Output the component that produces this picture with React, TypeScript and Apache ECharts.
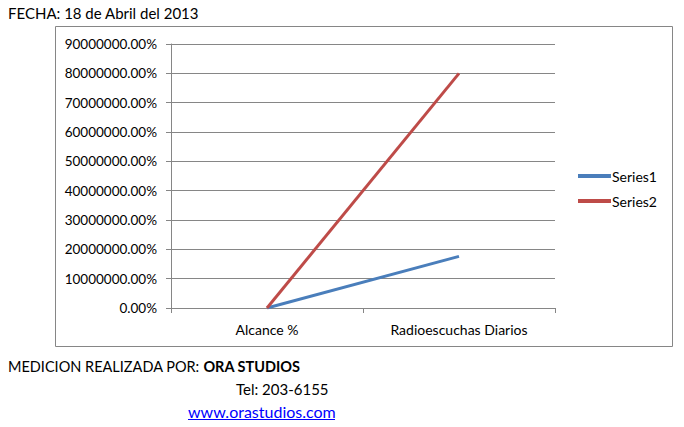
import React, { useEffect, useRef } from "react";
import * as echarts from "echarts";

const categories = ["Alcance %", "Radioescuchas Diarios"];
const series1 = [0, 17600000];
const series2 = [0, 80000000];
const seriesNames = ["Series1", "Series2"];
const yMin = 0;
const yMax = 90000000;
const yInterval = 10000000;

const FONT = "Lato, 'Open Sans', sans-serif";

export default function App() {
  const ref = useRef<HTMLDivElement>(null);
  useEffect(() => {
    if (!ref.current) return;
    const chart = echarts.init(ref.current, null, { renderer: "svg" });
    chart.setOption({
      animation: false,
      backgroundColor: "#ffffff",
      textStyle: { fontFamily: FONT },
      grid: { left: 171, top: 44, width: 384, height: 264, containLabel: false },
      legend: {
        orient: "vertical",
        left: 573,
        top: 164,
        itemWidth: 33,
        itemHeight: 4,
        itemGap: 11,
        icon: "rect",
        data: seriesNames,
        textStyle: { fontFamily: FONT, fontSize: 14, color: "#000", padding: [0, 0, 0, -4] },
      },
      xAxis: {
        type: "category",
        data: categories,
        boundaryGap: true,
        axisLine: { lineStyle: { color: "#868686", width: 1 } },
        axisTick: { show: true, length: 5, lineStyle: { color: "#868686" } },
        axisLabel: { color: "#000", fontSize: 14, fontFamily: FONT, margin: 14 },
      },
      yAxis: {
        type: "value",
        min: yMin,
        max: yMax,
        interval: yInterval,
        axisLine: { show: true, lineStyle: { color: "#868686", width: 1 } },
        axisTick: { show: true, length: 5, lineStyle: { color: "#868686" } },
        splitLine: { lineStyle: { color: "#868686", width: 1 } },
        axisLabel: {
          color: "#000",
          fontSize: 13.5,
          fontFamily: FONT,
          margin: 14,
          formatter: (v: number) => v.toFixed(2) + "%",
        },
      },
      series: [
        {
          name: seriesNames[0],
          type: "line",
          data: series1,
          symbol: "none",
          lineStyle: { width: 3, color: "#4a7ebb" },
          itemStyle: { color: "#4a7ebb" },
        },
        {
          name: seriesNames[1],
          type: "line",
          data: series2,
          symbol: "none",
          lineStyle: { width: 3, color: "#be4b48" },
          itemStyle: { color: "#be4b48" },
        },
      ],
      graphic: [
        {
          type: "rect",
          silent: true,
          z: -1,
          shape: { x: 55.5, y: 26.5, width: 617, height: 320 },
          style: { fill: "none", stroke: "#868686", lineWidth: 1 },
        },
        {
          type: "text",
          left: 8,
          top: 5,
          style: { text: "FECHA: 18 de Abril del 2013", font: `15px ${FONT}`, fill: "#000" },
        },
        {
          type: "text",
          left: 8,
          top: 359,
          style: {
            text: "{n|MEDICION REALIZADA POR: }{b|ORA STUDIOS}",
            rich: {
              n: { font: `14.5px ${FONT}`, fill: "#000" },
              b: { font: `bold 14.5px ${FONT}`, fill: "#000" },
            },
          },
        },
        {
          type: "text",
          left: 236,
          top: 381,
          style: { text: "Tel: 203-6155", font: `15px ${FONT}`, fill: "#000" },
        },
        {
          type: "text",
          left: 188,
          top: 403,
          style: { text: "www.orastudios.com", font: `16px ${FONT}`, fill: "#0000ff" },
        },
        {
          type: "line",
          shape: { x1: 188, y1: 419.5, x2: 335, y2: 419.5 },
          style: { stroke: "#0000ff", lineWidth: 1 },
        },
      ],
    });
    return () => chart.dispose();
  }, []);
  return (
    <div
      ref={ref}
      style={{ position: "fixed", left: 0, top: 0, width: 684, height: 427 }}
    />
  );
}
